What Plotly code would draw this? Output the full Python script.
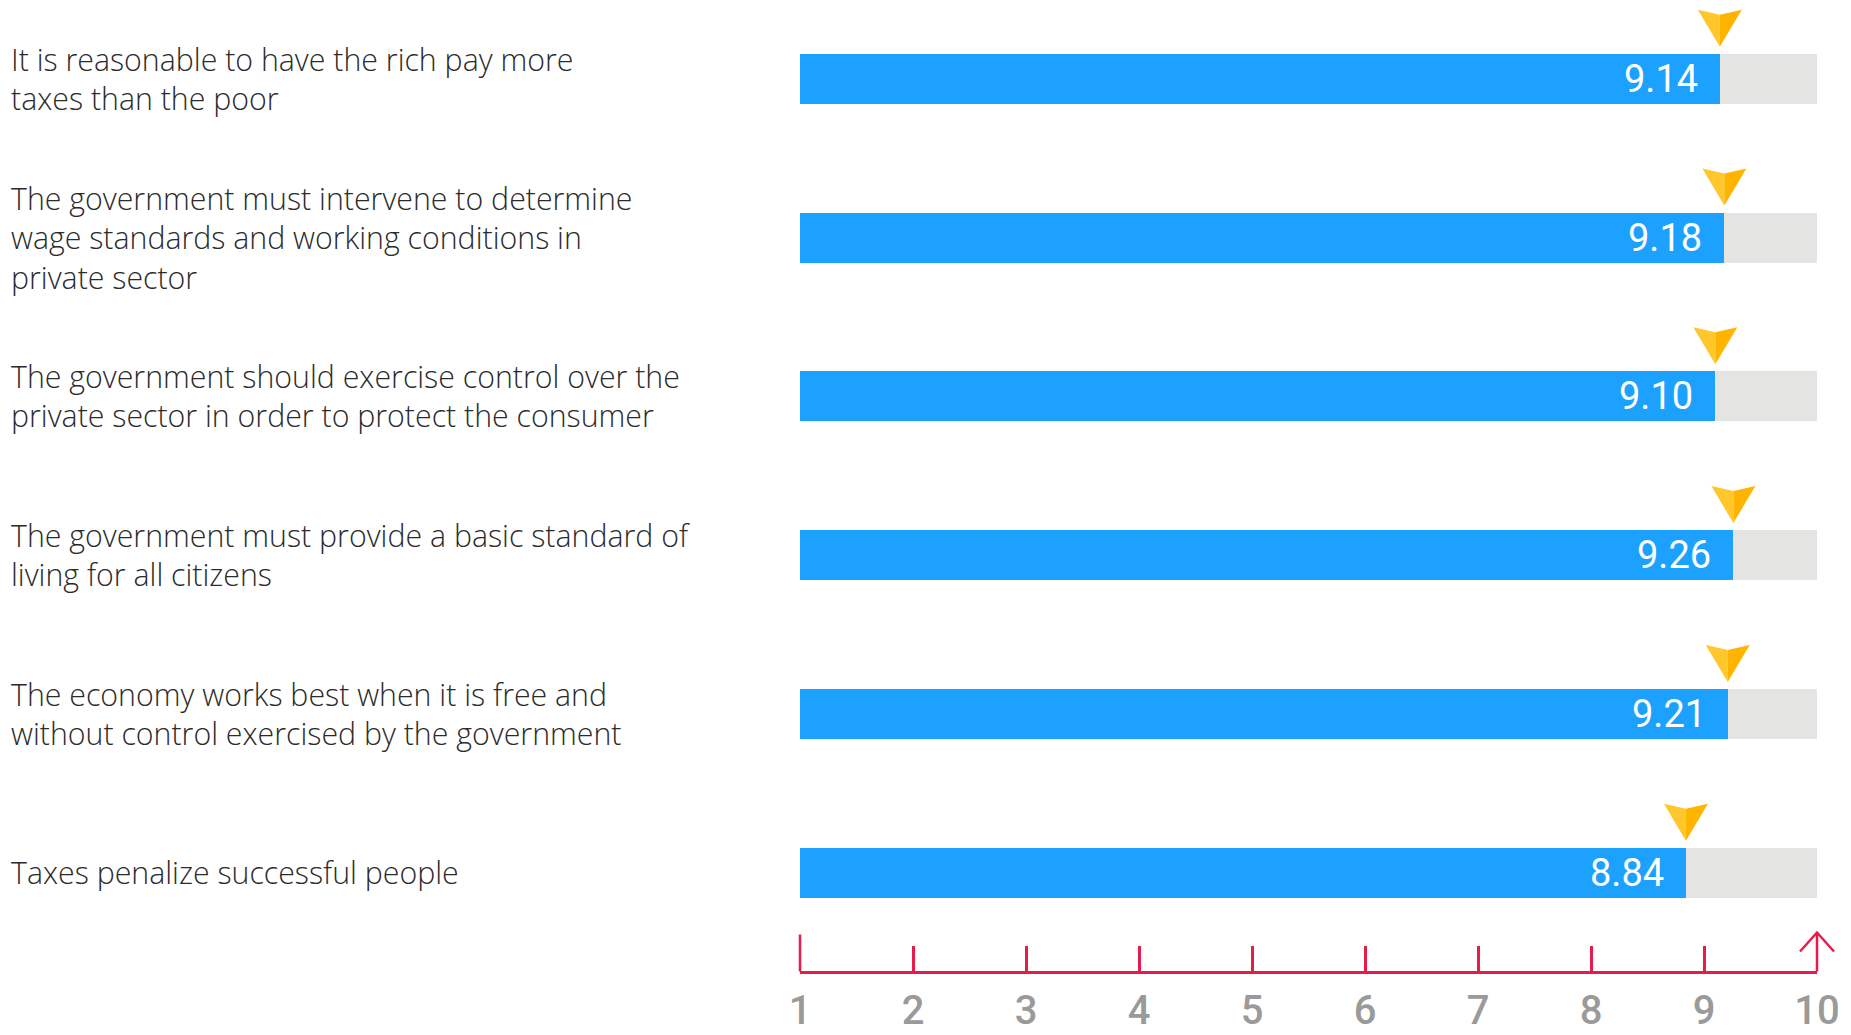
import plotly.graph_objects as go

# --- data -------------------------------------------------------------
statements = [
    "It is reasonable to have the rich pay more<br>taxes than the poor",
    "The government must intervene to determine<br>wage standards and working conditions in<br>private sector",
    "The government should exercise control over the<br>private sector in order to protect the consumer",
    "The government must provide a basic standard of<br>living for all citizens",
    "The economy works best when it is free and<br>without control exercised by the government",
    "Taxes penalize successful people",
]
scores = [9.14, 9.18, 9.10, 9.26, 9.21, 8.84]
scale_ticks = [1, 2, 3, 4, 5, 6, 7, 8, 9, 10]
scale_min, scale_max = 1, 10

# --- layout constants (pixels) -----------------------------------------
W, H = 1851, 1035
PLOT_LEFT, PLOT_RIGHT, PLOT_BOTTOM = 800, 1817, 970.5
ROW_TOP, ROW_STEP = 78.7, 158.8          # centre of first row, row pitch
BAR_PX = 50

BLUE = "#1DA1FF"
TRACK = "#E4E4E3"
RED = "#E81C4B"
GOLD_L = "#FFC72C"
GOLD_R = "#FFB400"

rows = list(range(len(scores)))
y_top = -ROW_TOP / ROW_STEP
y_bottom = y_top + PLOT_BOTTOM / ROW_STEP
bar_w = BAR_PX / ROW_STEP


def px_x(p):
    return p / W


def px_y(p):
    return 1 - p / H


fig = go.Figure()

# grey track spanning the whole scale
fig.add_trace(go.Bar(
    y=rows, x=[scale_max] * len(rows), orientation="h",
    width=bar_w, marker=dict(color=TRACK, line=dict(width=0)),
    hoverinfo="skip", showlegend=False,
))
# score bars
fig.add_trace(go.Bar(
    y=rows, x=scores, orientation="h",
    width=bar_w, marker=dict(color=BLUE, line=dict(width=0)),
    hovertemplate="%{x:.2f}<extra></extra>", showlegend=False,
))

annotations = []
shapes = []

for r, s, label in zip(rows, scores, statements):
    # statement text on the left
    annotations.append(dict(
        xref="paper", yref="y", x=px_x(9), y=r,
        xanchor="left", yanchor="middle", align="left",
        text=label, showarrow=False,
        font=dict(family="Open Sans", size=30.3, color="#2B2B2B", weight=300),
    ))
    # score value inside the bar end
    annotations.append(dict(
        xref="x", yref="y", x=s, y=r,
        xanchor="right", yanchor="middle", xshift=-20,
        text=f"{s:.2f}", showarrow=False,
        font=dict(family="Roboto", size=38, color="white", weight=400),
    ))
    # two-tone pointer above the bar end
    common = dict(type="path", xref="x", yref="y",
                  xsizemode="pixel", ysizemode="pixel",
                  xanchor=s, yanchor=r, line=dict(width=0), layer="above")
    shapes.append(dict(common, path="M -22,69 L 0,64 L 0,32 Z", fillcolor=GOLD_L))
    shapes.append(dict(common, path="M 0,64 L 22,69 L 0,32 Z", fillcolor=GOLD_R))

# taller tick at the start of the scale
shapes.append(dict(
    type="line", xref="paper", yref="paper",
    x0=px_x(PLOT_LEFT), x1=px_x(PLOT_LEFT),
    y0=px_y(PLOT_BOTTOM + 1), y1=px_y(PLOT_BOTTOM - 36),
    line=dict(color=RED, width=2.5),
))
# arrow head at the end of the scale
ax_x = PLOT_RIGHT
ax_y = PLOT_BOTTOM + 1
arrow = (f"M {px_x(ax_x)},{px_y(ax_y)} L {px_x(ax_x)},{px_y(ax_y - 39)} "
         f"M {px_x(ax_x - 17)},{px_y(ax_y - 20)} L {px_x(ax_x)},{px_y(ax_y - 39)} "
         f"L {px_x(ax_x + 17)},{px_y(ax_y - 20)}")
shapes.append(dict(
    type="path", xref="paper", yref="paper", path=arrow,
    line=dict(color=RED, width=2.5),
))

fig.update_layout(
    margin=dict(l=0, r=0, t=0, b=0),
    paper_bgcolor="white", plot_bgcolor="white",
    barmode="overlay", bargap=0,
    annotations=annotations, shapes=shapes,
    xaxis=dict(
        domain=[px_x(PLOT_LEFT), px_x(PLOT_RIGHT)],
        range=[scale_min, scale_max],
        tickvals=scale_ticks, ticktext=[str(t) for t in scale_ticks],
        ticks="inside", ticklen=25, tickwidth=2.5, tickcolor=RED,
        showline=True, linecolor=RED, linewidth=2.5,
        showgrid=False, zeroline=False, fixedrange=True,
        automargin=False, ticklabelstandoff=3,
        tickfont=dict(family="Roboto", size=40, color="#9A9A9A", weight=500),
    ),
    yaxis=dict(
        domain=[1 - PLOT_BOTTOM / H, 1],
        range=[y_bottom, y_top],
        visible=False, fixedrange=True, automargin=False,
    ),
)

fig.write_html("out.html", config={"displayModeBar": False})
